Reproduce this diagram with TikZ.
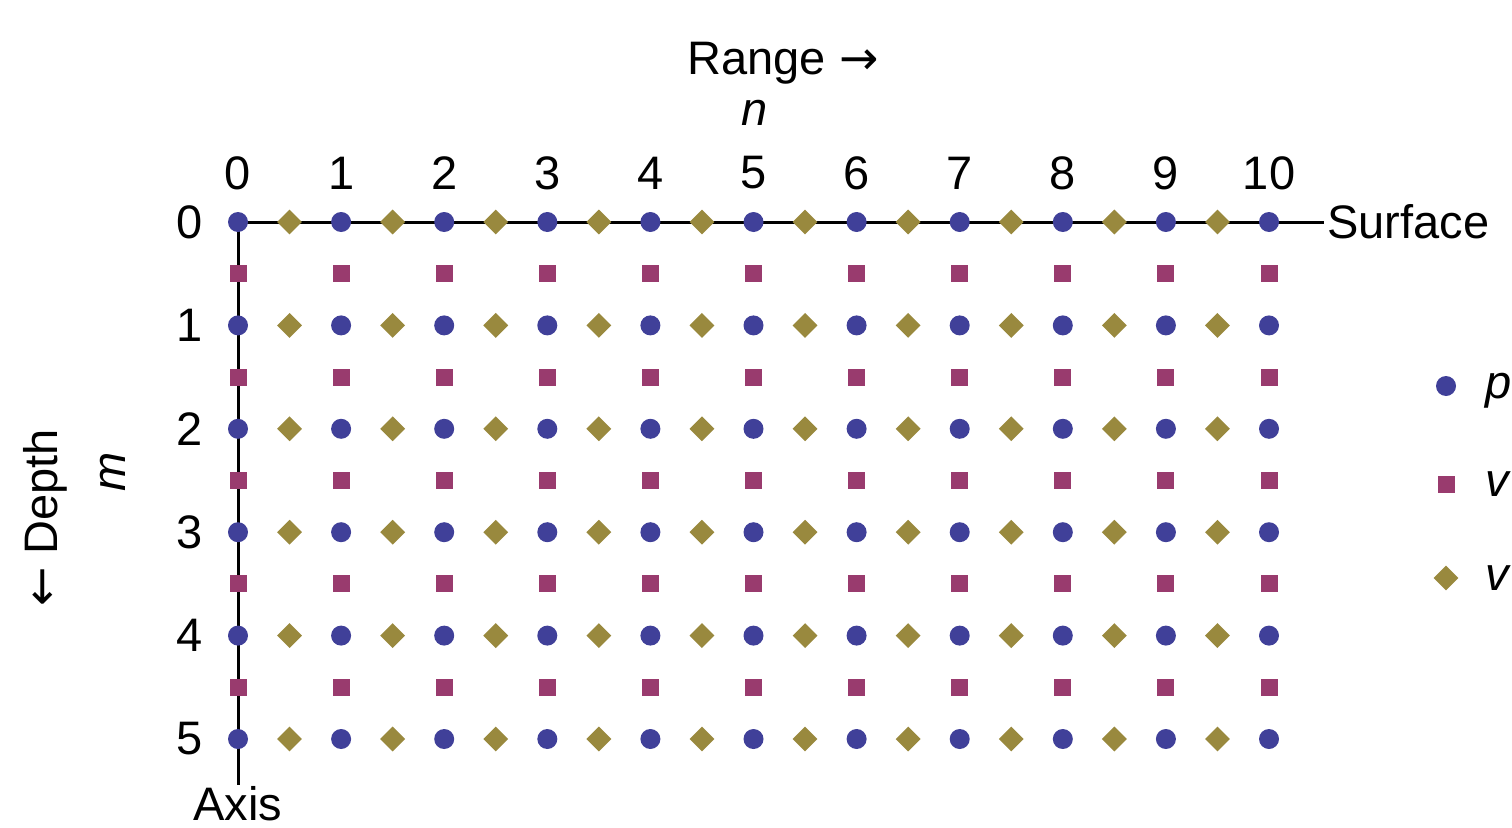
\documentclass[tikz,border=0pt]{standalone}
\usepackage{fontspec}
\setmainfont{Liberation Sans}
\newfontfamily\arrowfont{DejaVu Sans}
\usetikzlibrary{shapes.geometric}
\definecolor{pblue}{RGB}{64,64,153}
\definecolor{vmag}{RGB}{153,59,110}
\definecolor{wol}{RGB}{153,137,62}
\tikzset{
  pnode/.style={circle, fill=pblue, inner sep=0pt, minimum size=20pt},
  vnode/.style={rectangle, fill=vmag, inner sep=0pt, minimum size=17pt},
  wnode/.style={diamond, aspect=1, fill=wol, inner sep=0pt, minimum size=25pt},
  lbl/.style={font=\fontsize{47}{56}\selectfont, inner sep=0pt},
  axisline/.style={line width=3pt, black}
}
\begin{document}
\begin{tikzpicture}[x=1pt,y=-1pt]
\useasboundingbox (0,0) rectangle (1512,827);
\def\dx{103.1}
\def\dy{103.4}
% axis lines
\coordinate (surfend) at (1324,222);
\coordinate (axend) at (238,785);
\draw[axisline] (238,222) coordinate (orig) -- (surfend);
\draw[axisline] (orig) -- (axend);
% squares (v)
\foreach \n in {0,...,10}{
  \foreach \m in {0,...,4}{
    \node[vnode] (v-\n-\m) at ({238+\n*\dx},{222+(\m+0.5)*\dy}) {};
  }
}
% diamonds (w)
\foreach \n in {0,...,9}{
  \foreach \m in {0,...,5}{
    \node[wnode] (w-\n-\m) at ({238+(\n+0.5)*\dx},{222+\m*\dy}) {};
  }
}
% circles (p)
\foreach \n in {0,...,10}{
  \foreach \m in {0,...,5}{
    \node[pnode] (p-\n-\m) at ({238+\n*\dx},{222+\m*\dy}) {};
  }
}
% column labels
\foreach \n in {0,...,10}{
  \node[lbl] (cl-\n) at ({238+\n*\dx},173) {\n};
}
% row labels
\foreach \m in {0,...,5}{
  \node[lbl] (rl-\m) at (190,{222+\m*\dy}) {\m};
}
% titles
\node[lbl] (range) at (783,63) {Range {\arrowfont →}};
\node[lbl] (nlab) at (755,113) {\itshape n};
\node[lbl, anchor=west] (surface) at (1327,222) {Surface};
\node[lbl] (axis) at (238,804) {Axis};
\node[lbl, rotate=90] (depth) at (45,518) {{\arrowfont ←} Depth};
\node[lbl, rotate=90] (mlab) at (113,472) {\itshape m};
% legend
\node[pnode] (lp) at (1446,386) {};
\node[vnode] (lv) at (1446,484) {};
\node[wnode] (lw) at (1446,578) {};
\node[lbl, anchor=base west] (lpt) at (1485,398) {\itshape p};
\node[lbl, anchor=base west] (lvt) at (1485,496) {\itshape v};
\node[lbl, anchor=base west] (lwt) at (1485,590) {\itshape v};
\end{tikzpicture}
\end{document}
